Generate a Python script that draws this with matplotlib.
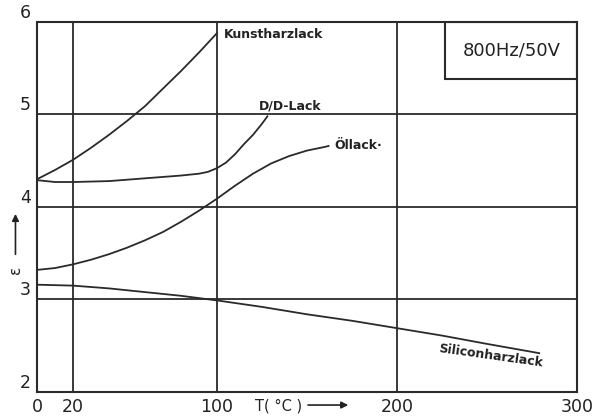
import matplotlib
matplotlib.use("Agg")
import matplotlib.pyplot as plt
from matplotlib.patches import Rectangle

# Data
kunst_x = [0, 10, 20, 30, 40, 50, 60, 70, 80, 90, 100]
kunst_y = [4.30, 4.40, 4.51, 4.64, 4.78, 4.93, 5.09, 5.28, 5.47, 5.67, 5.88]

dd_x = [0, 10, 20, 40, 60, 80, 90, 95, 100, 105, 110, 115, 120, 125, 128]
dd_y = [4.29, 4.27, 4.27, 4.28, 4.31, 4.34, 4.36, 4.38, 4.42, 4.48, 4.57, 4.68, 4.78, 4.90, 4.98]

oel_x = [0, 10, 20, 30, 40, 50, 60, 70, 80, 90, 100, 110, 120, 130, 140, 150, 160, 162]
oel_y = [3.32, 3.34, 3.38, 3.43, 3.49, 3.56, 3.64, 3.73, 3.84, 3.96, 4.09, 4.23, 4.36, 4.47, 4.55, 4.61, 4.65, 4.66]

sil_x = [0, 20, 40, 60, 80, 100, 125, 150, 175, 200, 225, 250, 279]
sil_y = [3.16, 3.15, 3.12, 3.08, 3.04, 2.99, 2.92, 2.84, 2.77, 2.69, 2.61, 2.52, 2.42]

x_ticks = [0, 20, 100, 200, 300]
y_ticks = [2, 3, 4, 5, 6]
grid_x = [20, 100, 200]
grid_y = [3, 4, 5]

plt.rcParams['font.family'] = ['DejaVu Sans']
fig = plt.figure(figsize=(5.95, 4.18), dpi=100)
ax = fig.add_axes([0.0622, 0.0622, 0.9075, 0.8852])
ax.set_xlim(0, 300)
ax.set_ylim(2, 6)

lc = '#2a2a2a'
tc = '#222222'
for gx in grid_x:
    ax.axvline(gx, color=lc, lw=1.3, zorder=1)
for gy in grid_y:
    ax.axhline(gy, color=lc, lw=1.3, zorder=1)
for s in ax.spines.values():
    s.set_linewidth(1.5)
    s.set_color(lc)

for xs, ys in [(kunst_x, kunst_y), (dd_x, dd_y), (oel_x, oel_y), (sil_x, sil_y)]:
    ax.plot(xs, ys, color=lc, lw=1.3, zorder=2)

ax.set_xticks([])
ax.set_yticks([])
for t in x_ticks:
    ax.text(t, -0.04, str(t), transform=ax.get_xaxis_transform(), ha='center', va='center',
            fontsize=12.5, color=tc)
for t in y_ticks:
    ax.text(-0.011, t + 0.1, str(t), transform=ax.get_yaxis_transform(), ha='right', va='center',
            fontsize=12.5, color=tc)

ax.text(104, 5.86, 'Kunstharzlack', fontsize=9, fontweight='bold', ha='left', va='center', color=tc)
ax.text(123, 5.09, 'D/D-Lack', fontsize=9, fontweight='bold', ha='left', va='center', color=tc)
ax.text(165, 4.66, 'Öllack·', fontsize=9, fontweight='bold', ha='left', va='center', color=tc)
ax.text(223, 2.47, 'Siliconharzlack', fontsize=9, fontweight='bold', ha='left', va='center',
        rotation=-8, rotation_mode='anchor', color=tc)

# Box label
ax.add_patch(Rectangle((226.7, 5.38), 73.3, 0.62, fill=False, lw=1.5, ec=lc, zorder=3))
ax.text(263.5, 5.69, '800Hz/50V', fontsize=13, ha='center', va='center', color=tc)

# Axis titles
fig.text(0.429, 0.029, 'T( °C )', fontsize=10.5, ha='left', va='center', color=tc)
ax.annotate('', xy=(0.590, 0.031), xytext=(0.513, 0.031), xycoords='figure fraction',
            arrowprops=dict(arrowstyle='-|>', color=tc, lw=1.2, mutation_scale=10))
fig.text(0.026, 0.354, 'ε', fontsize=11, rotation=90, ha='center', va='center', color=tc)
ax.annotate('', xy=(0.026, 0.495), xytext=(0.026, 0.385), xycoords='figure fraction',
            arrowprops=dict(arrowstyle='-|>', color=tc, lw=1.2, mutation_scale=10))

fig.savefig('out.png', dpi=100)
